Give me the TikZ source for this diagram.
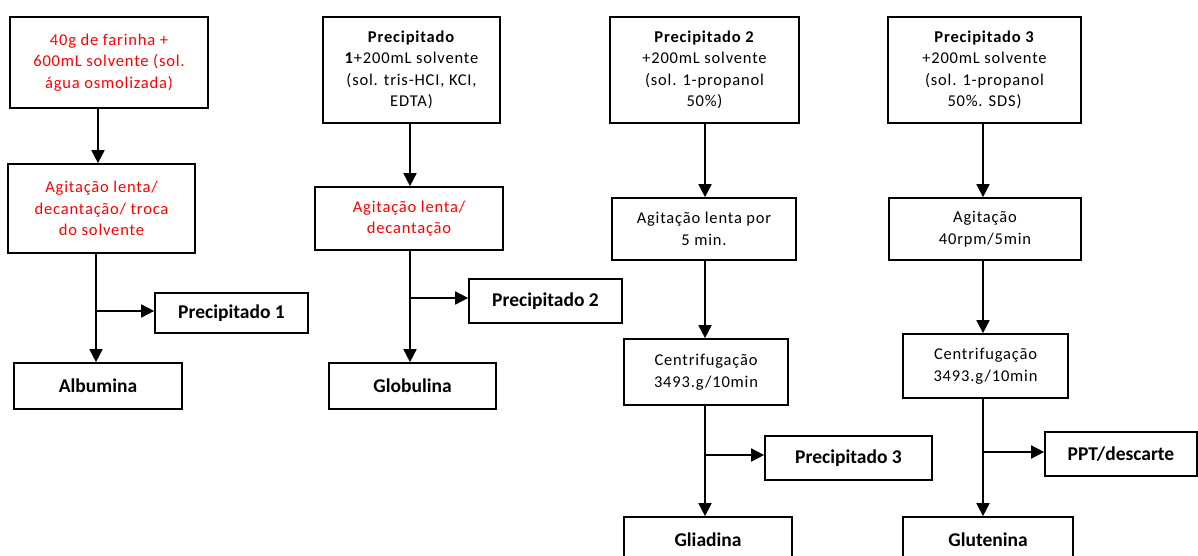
\documentclass[tikz,border=0pt]{standalone}
\usepackage{fontspec}
\setmainfont{Carlito}
\newfontfamily\bodyfont[LetterSpace=5]{Carlito}
\usetikzlibrary{arrows.meta}
\begin{document}
\begin{tikzpicture}[x=1pt,y=-1pt,
  box/.style={draw, line width=1.7pt, rectangle, inner sep=0pt, align=center,
    font=\bodyfont\fontsize{16.5}{21.5}\selectfont},
  redbox/.style={box, text=red},
  endbox/.style={box, font=\fontsize{19.5}{22}\selectfont\bfseries},
  arr/.style={line width=1.7pt, -{Triangle[width=13pt,length=13pt]}},
  ln/.style={line width=1.7pt}]
\useasboundingbox (0,0) rectangle (1198,555);
% column 1
\node[redbox, minimum width=198pt, minimum height=91pt] (A) at (109,62.5) {40g de farinha +\\600mL solvente (sol.\\água osmolizada)};
\node[redbox, minimum width=187pt, minimum height=89pt] (B) at (101.5,208.5) {Agitação lenta/\\decantação/ troca\\do solvente};
\node[endbox, minimum width=153pt, minimum height=40pt] (P1) at (231.5,313) {Precipitado 1};
\node[endbox, minimum width=168pt, minimum height=46pt] (Alb) at (98,386) {Albumina};
% column 2
\node[box, minimum width=177pt, minimum height=106pt] (C) at (411.5,70) {\textbf{Precipitado}\\\textbf{1}+200mL solvente\\(sol. tris-HCI, KCI,\\EDTA)};
\node[redbox, minimum width=188pt, minimum height=63pt] (D) at (409,218.5) {Agitação lenta/\\decantação};
\node[endbox, minimum width=153pt, minimum height=44pt] (P2) at (545.5,301) {Precipitado 2};
\node[endbox, minimum width=167pt, minimum height=46pt] (Glob) at (412.5,386) {Globulina};
% column 3
\node[box, minimum width=189pt, minimum height=106pt] (E) at (704.5,70) {\textbf{Precipitado 2}\\+200mL solvente\\(sol. 1-propanol\\50\%)};
\node[box, minimum width=184pt, minimum height=62pt] (F) at (704,229) {Agitação lenta por\\5 min.};
\node[box, minimum width=164pt, minimum height=66pt] (G) at (706,372) {Centrifugação\\3493.g/10min};
\node[endbox, minimum width=167pt, minimum height=44pt] (P3) at (848.5,458) {Precipitado 3};
\node[endbox, minimum width=168pt, minimum height=46pt] (Gli) at (708,540) {Gliadina};
% column 4
\node[box, minimum width=193pt, minimum height=106pt] (H) at (984.5,70) {\textbf{Precipitado 3}\\+200mL solvente\\(sol. 1-propanol\\50\%. SDS)};
\node[box, minimum width=192pt, minimum height=62pt] (I) at (985,229) {Agitação\\40rpm/5min};
\node[box, minimum width=165pt, minimum height=64pt] (J) at (985.5,366) {Centrifugação\\3493.g/10min};
\node[endbox, minimum width=152pt, minimum height=44pt] (PPT) at (1121,454) {PPT/descarte};
\node[endbox, minimum width=170pt, minimum height=46pt] (Glu) at (988,540) {Glutenina};
% trunk coordinates
\coordinate (t1a) at (98,0);
\coordinate (t1b) at (96,0);
\coordinate (t2) at (410,0);
\coordinate (t3) at (705,0);
\coordinate (t4) at (983,0);
\coordinate (b1) at (96,311);
\coordinate (b2) at (410,298);
\coordinate (b3) at (705,455);
\coordinate (b4) at (983,452);
% connectors col 1
\draw[arr] (A.south -| t1a) -- (B.north -| t1a);
\draw[arr] (B.south -| t1b) -- (Alb.north -| t1b);
\draw[arr] (b1) -- (P1.west |- b1);
% col 2
\draw[arr] (C.south -| t2) -- (D.north -| t2);
\draw[arr] (D.south -| t2) -- (Glob.north -| t2);
\draw[arr] (b2) -- (P2.west |- b2);
% col 3
\draw[arr] (E.south -| t3) -- (F.north -| t3);
\draw[arr] (F.south -| t3) -- (G.north -| t3);
\draw[arr] (G.south -| t3) -- (Gli.north -| t3);
\draw[arr] (b3) -- (P3.west |- b3);
% col 4
\draw[arr] (H.south -| t4) -- (I.north -| t4);
\draw[arr] (I.south -| t4) -- (J.north -| t4);
\draw[arr] (J.south -| t4) -- (Glu.north -| t4);
\draw[arr] (b4) -- (PPT.west |- b4);
\end{tikzpicture}
\end{document}
